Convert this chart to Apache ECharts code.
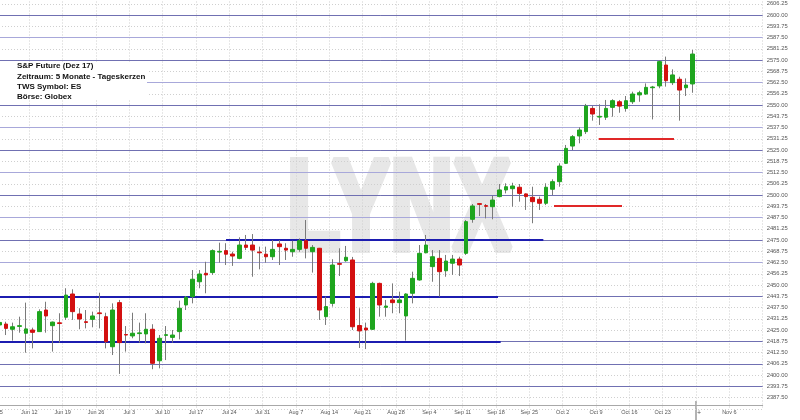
<!DOCTYPE html>
<html><head><meta charset="utf-8">
<script src="https://cdn.jsdelivr.net/npm/echarts@6.0.0/dist/echarts.min.js"></script>
<style>html,body{margin:0;padding:0;background:#fff}#c{width:800px;height:420px}</style>
</head><body><div id="c"></div>
<script>
// Week boundary labels (one per 5 trading-day slots)
const weekLabels = ['Jun 5','Jun 12','Jun 19','Jun 26','Jul 3','Jul 10','Jul 17','Jul 24','Jul 31','Aug 7','Aug 14','Aug 21','Aug 28','Sep 4','Sep 11','Sep 18','Sep 25','Oct 2','Oct 9','Oct 16','Oct 23','+','Nov 6',''];

// Daily OHLC, Jun 5 .. Oct 27 (one slot per weekday)
const opens  = [2427.8,2428.3,2425.4,2427.0,2423.2,2425.0,2424.1,2436.1,2427.4,2429.0,2432.1,2445.0,2433.9,2429.6,2430.9,2434.5,2432.4,2415.7,2440.2,2422.5,2421.7,2423.0,2422.8,2425.4,2407.9,2422.0,2420.9,2424.1,2438.9,2443.5,2451.8,2456.5,2456.9,2468.3,2469.1,2467.2,2464.8,2472.2,2472.2,2468.3,2467.1,2465.7,2472.8,2470.4,2468.5,2469.8,2474.6,2468.5,2470.4,2432.4,2439.8,2461.9,2463.5,2463.9,2427.5,2426.1,2425.4,2450.9,2437.6,2441.7,2440.2,2432.8,2445.4,2452.8,2467.9,2460.2,2464.8,2457.9,2462.1,2464.4,2467.6,2486.5,2495.2,2494.1,2493.5,2499.1,2502.8,2503.5,2504.3,2500.6,2498.7,2497.6,2495.4,2503.2,2507.4,2517.6,2527.2,2532.8,2535.2,2548.1,2543.3,2543.2,2548.7,2551.8,2548.1,2551.8,2555.6,2556.1,2559.6,2560.6,2572.2,2562.4,2564.3,2559.6,2561.7];
const highs  = [2431.0,2429.6,2429.1,2432.4,2440.2,2426.3,2436.5,2440.7,2429.7,2434.3,2448.2,2447.6,2437.1,2436.1,2435.2,2445.7,2434.6,2439.8,2441.7,2427.2,2434.6,2429.1,2434.3,2428.2,2422.2,2427.2,2425.0,2441.3,2443.9,2458.3,2458.3,2462.9,2469.8,2473.5,2473.2,2468.5,2476.5,2477.8,2478.3,2471.3,2471.3,2475.0,2475.0,2473.2,2474.6,2475.9,2486.1,2472.2,2470.6,2443.5,2464.3,2470.4,2471.7,2465.6,2437.1,2429.1,2451.8,2451.3,2441.7,2450.9,2446.3,2445.4,2457.4,2472.2,2477.8,2469.4,2469.4,2466.7,2466.7,2465.7,2486.1,2495.0,2495.5,2495.0,2499.6,2506.1,2506.5,2506.8,2506.1,2500.9,2504.6,2499.1,2506.5,2508.7,2517.6,2527.8,2533.3,2537.6,2550.6,2549.4,2550.4,2552.8,2553.2,2552.8,2555.0,2557.4,2557.9,2562.0,2560.6,2575.0,2576.9,2569.8,2565.7,2564.8,2580.6];
const lows   = [2426.0,2422.2,2419.1,2423.5,2412.4,2414.8,2424.1,2423.5,2413.0,2418.0,2430.6,2430.6,2425.4,2425.9,2426.5,2425.9,2414.8,2411.1,2400.6,2413.0,2420.4,2418.0,2417.6,2403.2,2403.7,2408.3,2418.0,2419.8,2436.1,2439.8,2448.2,2445.4,2455.6,2462.4,2461.1,2460.6,2464.3,2469.4,2454.6,2458.7,2462.4,2463.9,2461.1,2463.9,2465.7,2468.5,2464.8,2456.9,2430.6,2427.8,2438.0,2455.0,2462.9,2425.0,2415.0,2414.4,2425.0,2432.4,2432.4,2434.3,2434.3,2419.1,2439.8,2452.4,2467.6,2451.8,2443.5,2454.6,2455.6,2455.0,2466.7,2484.6,2488.3,2487.0,2486.5,2498.7,2500.9,2493.5,2496.3,2491.7,2484.3,2491.7,2494.4,2500.0,2504.6,2517.2,2525.0,2528.7,2533.9,2541.3,2538.9,2541.7,2543.5,2545.7,2546.3,2550.6,2551.8,2555.6,2542.0,2559.3,2560.2,2561.1,2541.3,2555.0,2556.8];
const closes = [2429.2,2425.9,2426.8,2427.4,2425.6,2423.7,2435.2,2432.8,2429.4,2428.6,2444.4,2435.2,2431.1,2429.2,2432.8,2434.1,2418.5,2436.1,2418.0,2422.2,2423.2,2423.4,2425.4,2406.5,2420.4,2422.4,2422.2,2437.1,2443.2,2453.2,2456.1,2455.6,2469.1,2468.7,2467.1,2466.1,2472.2,2470.9,2469.4,2467.9,2465.7,2469.8,2471.3,2469.4,2469.8,2474.6,2470.4,2470.9,2436.1,2438.0,2461.1,2461.5,2465.4,2426.8,2424.5,2425.0,2450.9,2438.9,2438.3,2440.2,2441.7,2445.0,2453.7,2467.6,2472.2,2465.7,2457.4,2463.3,2464.4,2461.1,2485.2,2493.9,2494.8,2493.7,2497.2,2502.8,2504.6,2505.0,2500.9,2499.1,2496.3,2495.4,2504.3,2507.4,2516.1,2525.9,2532.4,2536.1,2549.4,2545.0,2543.7,2548.1,2552.4,2549.4,2552.4,2556.1,2556.8,2559.8,2560.0,2574.1,2563.5,2566.7,2558.3,2561.1,2578.3];

// Horizontal drawing levels
const majorLevels = [2600, 2575, 2550, 2525, 2500, 2475];
const minorLevels = [2587.5, 2562.5, 2537.5, 2512.5, 2487.5, 2462.5];
const lowerLevels = [2443.75, 2418.75, 2406.25, 2393.75];
const supportLines = [
  {level: 2443.75, from: 0, to: 75.3},
  {level: 2418.75, from: 0, to: 75.7},
  {level: 2475, from: 34.5, to: 82.1}
];
const targetLines = [
  {level: 2494.0, from: 83.7, to: 93.9},
  {level: 2531.3, from: 90.4, to: 101.7}
];
const infoLines = ['S&P Future (Dez 17)', 'Zeitraum: 5 Monate - Tageskerzen', 'TWS Symbol: ES', 'Börse: Globex'];

const FONT = 'Liberation Sans, Arial, sans-serif';
const wickData = opens.map((o, i) => [i + 0.5, o, closes[i], lows[i], highs[i]]);
const bodyData = opens.map((o, i) => [i + 0.5, o, closes[i], Math.min(o, closes[i]), Math.max(o, closes[i])]);

const markData = [];
majorLevels.forEach(v => markData.push({yAxis: v, lineStyle: {color: '#7070b2', width: 1, type: 'solid'}}));
minorLevels.forEach(v => markData.push({yAxis: v, lineStyle: {color: '#a8a8da', width: 1, type: 'solid'}}));
lowerLevels.forEach(v => markData.push({yAxis: v, lineStyle: {color: '#7070b2', width: 1, type: 'solid'}}));
supportLines.forEach(s => markData.push([{coord: [s.from, s.level], lineStyle: {color: '#1c1cb0', width: 2, type: 'solid'}}, {coord: [s.to, s.level]}]));
targetLines.forEach(s => markData.push([{coord: [s.from, s.level], lineStyle: {color: '#e02828', width: 2, type: 'solid'}}, {coord: [s.to, s.level]}]));

const chart = echarts.init(document.getElementById('c'), null, {renderer: 'canvas'});
const option = {
  backgroundColor: '#ffffff',
  animation: false,
  grid: {left: -4, right: 37.33, top: -7.5, bottom: 11.25, containLabel: false, outerBoundsMode: 'none'},
  xAxis: {
    type: 'value', min: 0, max: 115, interval: 5, offset: -4,
    axisLine: {show: true, onZero: false, lineStyle: {color: '#a8a8a8', width: 1}},
    axisTick: {show: false},
    axisLabel: {show: true, fontSize: 5.5, color: '#555', fontFamily: FONT, margin: 5, hideOverlap: false,
      showMinLabel: true, showMaxLabel: false,
      formatter: v => {
        const t = weekLabels[Math.round(v / 5)] || '';
        return t === '+' ? '{p|+}' : t;
      },
      rich: {p: {fontSize: 7, color: '#555', padding: [0, 0, 0, 6]}}},
    splitLine: {show: true, lineStyle: {color: '#cfcfcf', type: [1, 2], width: 1}}
  },
  yAxis: {
    type: 'value', position: 'right', min: 2381.25, max: 2612.5, interval: 6.25, scale: true,
    name: 'Price', nameLocation: 'middle', nameGap: 29, nameRotate: -90,
    nameTextStyle: {fontSize: 7, color: '#555', fontFamily: FONT},
    axisLine: {show: true, lineStyle: {color: '#b0b0b0', width: 1}},
    axisTick: {show: true, length: 3, lineStyle: {color: '#b0b0b0'}},
    axisLabel: {fontSize: 5.8, color: '#555', fontFamily: FONT, margin: 4, showMinLabel: false, showMaxLabel: false,
      formatter: v => v.toFixed(2)},
    splitLine: {show: true, lineStyle: {color: '#cfcfcf', type: [1, 2], width: 1}}
  },
  graphic: {elements: [
    {id: 'wm', type: 'text', x: 399, y: 214, scaleX: 0.68, z: -10, silent: true,
      style: {text: 'LYNX', font: 'bold 128px ' + FONT, fill: '#e7e7e7', stroke: '#e7e7e7', lineWidth: 8,
        textAlign: 'center', textVerticalAlign: 'middle'}},
    {id: 'infobg', type: 'rect', z: 100, silent: true, shape: {x: 0, y: 62, width: 147, height: 38}, style: {fill: '#ffffff'}},
    ...infoLines.map((t, i) => ({id: 'info' + i, type: 'text', z: 101, silent: true, x: 17, y: 66 + i * 10.4,
        style: {text: t, font: 'bold 8px ' + FONT, fill: '#111', textVerticalAlign: 'middle'}}))
  ]},
  series: [
    {
      type: 'candlestick', name: 'wick', data: wickData, barWidth: 1, z: 3,
      itemStyle: {color: '#7a7a7a', color0: '#7a7a7a', borderColor: '#7a7a7a', borderColor0: '#7a7a7a', borderWidth: 1},
      markLine: {silent: true, z: 1, symbol: ['none', 'none'], label: {show: false}, animation: false, data: markData}
    },
    {
      type: 'candlestick', name: 'body', data: bodyData, barWidth: 4, z: 4,
      itemStyle: {color: '#1ea51e', color0: '#d31010', borderColor: '#1ea51e', borderColor0: '#d31010', borderWidth: 1}
    }
  ]
};
chart.setOption(option);
const tx = chart.convertToPixel({xAxisIndex: 0}, 105);
chart.setOption({graphic: {elements: [
  {id: 'tick', type: 'line', silent: true, shape: {x1: tx, y1: 401, x2: tx, y2: 420}, style: {stroke: '#666', lineWidth: 1}}
]}});
</script></body></html>
